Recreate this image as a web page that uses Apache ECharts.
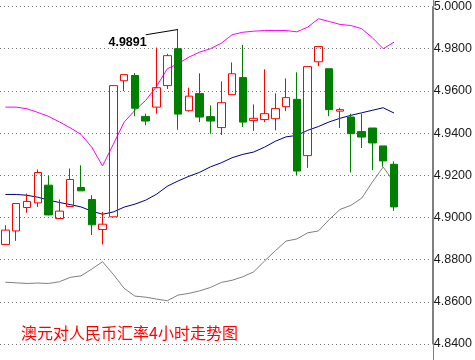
<!DOCTYPE html>
<html>
<head>
<meta charset="utf-8">
<script src="https://cdn.jsdelivr.net/npm/echarts@6/dist/echarts.min.js"></script>
<style>
html,body{margin:0;padding:0;background:#fff;}
#c{width:475px;height:360px;}
</style>
</head>
<body>
<div id="c"></div>
<script>
// ---- data (4-hour candles, AUD/CNY) ----
const categories = Array.from({length: 40}, (_, i) => String(i + 1)); // 37 candles + 3 empty slots on the right
const opens  = [4.8872,4.8936,4.9047,4.9069,4.9153,4.8995,4.9052,4.9142,4.9085,4.8943,4.9003,4.9648,4.9673,4.9479,4.9523,4.9625,4.9800,4.9506,4.9587,4.9478,4.9426,4.9582,4.9663,4.9459,4.9464,4.9468,4.9525,4.9560,4.9293,4.9738,4.9705,4.9504,4.9476,4.9407,4.9424,4.9339,4.9252];
const closes = [4.8940,4.9066,4.9076,4.9213,4.9012,4.9030,4.9180,4.9126,4.8965,4.8968,4.9625,4.9677,4.9518,4.9457,4.9615,4.9767,4.9490,4.9575,4.9476,4.9457,4.9544,4.9681,4.9452,4.9470,4.9492,4.9516,4.9568,4.9220,4.9715,4.9810,4.9511,4.9511,4.9397,4.9381,4.9353,4.9268,4.9050];
const lows   = [4.8872,4.8889,4.9022,4.9050,4.9010,4.8995,4.9050,4.9126,4.8917,4.8872,4.9003,4.9599,4.9480,4.9437,4.9492,4.9609,4.9416,4.9502,4.9452,4.9397,4.9391,4.9582,4.9429,4.9410,4.9452,4.9413,4.9504,4.9201,4.9235,4.9717,4.9480,4.9424,4.9213,4.9329,4.9224,4.9240,4.9031];
const highs  = [4.8963,4.9066,4.9113,4.9227,4.9197,4.9085,4.9232,4.9247,4.9105,4.9026,4.9625,4.9677,4.9684,4.9492,4.9805,4.9776,4.9891,4.9615,4.9683,4.9531,4.9645,4.9735,4.9818,4.9536,4.9702,4.9588,4.9659,4.9688,4.9715,4.9810,4.9705,4.9520,4.9492,4.9492,4.9424,4.9339,4.9266];
// Bollinger bands
const upperBand  = [4.9523,4.9523,4.9515,4.9498,4.9479,4.9453,4.9425,4.9394,4.9333,4.9244,4.9347,4.9452,4.9508,4.9555,4.9621,4.9705,4.9729,4.9760,4.9784,4.9800,4.9826,4.9866,4.9878,4.9883,4.9886,4.9886,4.9886,4.9880,4.9902,4.9942,4.9929,4.9915,4.9910,4.9895,4.9852,4.9800,4.9831];
const middleBand = [4.9109,4.9109,4.9105,4.9096,4.9082,4.9071,4.9061,4.9050,4.9030,4.9015,4.9026,4.9049,4.9063,4.9082,4.9110,4.9148,4.9173,4.9195,4.9214,4.9240,4.9259,4.9283,4.9299,4.9310,4.9333,4.9361,4.9382,4.9389,4.9413,4.9431,4.9453,4.9470,4.9484,4.9496,4.9508,4.9520,4.9495];
const lowerBand  = [4.8693,4.8690,4.8687,4.8689,4.8687,4.8695,4.8716,4.8723,4.8755,4.8790,4.8730,4.8664,4.8627,4.8622,4.8613,4.8605,4.8632,4.8640,4.8652,4.8668,4.8692,4.8702,4.8719,4.8742,4.8793,4.8842,4.8888,4.8898,4.8927,4.8936,4.8990,4.9038,4.9057,4.9091,4.9168,4.9239,4.9168];
// y-axis ticks
const yMin = 4.84, yMax = 5.00, yStep = 0.02;
// annotation of the peak
const peakLabel = '4.9891';
const peakIndex = 16, peakValue = 4.9891;
const leaderIndex = 13, leaderValue = 4.9866;
const titleText = '澳元对人民币汇率4小时走势图';

const candles = opens.map((o, i) => [o, closes[i], lows[i], highs[i]]);

const chart = echarts.init(document.getElementById('c'), null, {renderer: 'canvas'});
chart.setOption({
  animation: false,
  backgroundColor: '#ffffff',
  title: {
    text: titleText, left: 21, top: 325, padding: 0,
    textStyle: {color: '#ff0000', fontSize: 16, fontWeight: 'normal', fontFamily: '"Noto Sans CJK SC", sans-serif'}
  },
  grid: {left: -2.4, right: 42, top: 6, bottom: 16, containLabel: false},
  xAxis: {
    type: 'category', data: categories, boundaryGap: true,
    axisLine: {show: false}, axisTick: {show: false}, axisLabel: {show: false}, splitLine: {show: false}
  },
  yAxis: {
    type: 'value', position: 'right', min: yMin, max: yMax, interval: yStep, scale: true,
    axisLine: {show: true, lineStyle: {color: '#808080', width: 1}},
    axisTick: {show: false},
    axisLabel: {
      margin: 2, color: '#1a1a1a', fontSize: 12.5, fontFamily: '"Liberation Sans", Arial, sans-serif',
      padding: [6, 0, 0, 0], verticalAlign: 'middle',
      formatter: v => v.toFixed(4)
    },
    splitLine: {show: true, lineStyle: {color: '#777777', width: 1, type: [1, 3]}}
  },
  graphic: [{
    type: 'line', z: 0, shape: {x1: 433.5, y1: 0, x2: 433.5, y2: 360},
    style: {stroke: '#808080', lineWidth: 1}
  }],
  series: [
    {type: 'line', data: upperBand, symbol: 'none', lineStyle: {color: '#ff00ff', width: 1}, z: 2},
    {type: 'line', data: middleBand, symbol: 'none', lineStyle: {color: '#000080', width: 1}, z: 2},
    {type: 'line', data: lowerBand, symbol: 'none', lineStyle: {color: '#808080', width: 1}, z: 2},
    {
      type: 'candlestick', data: candles, barWidth: 8, z: 3,
      itemStyle: {color: 'rgba(255,255,255,0)', color0: '#008000', borderColor: '#ff0000', borderColor0: '#008000', borderWidth: 1},
      markLine: {
        silent: true, symbol: ['none', 'none'],
        lineStyle: {color: '#000000', width: 1, type: 'solid'},
        label: {show: false},
        data: [[{coord: [leaderIndex, leaderValue]}, {coord: [peakIndex, peakValue]}]]
      },
      markPoint: {
        silent: true, symbol: 'circle', symbolSize: 0,
        label: {show: true, position: 'left', distance: 0, offset: [1, 8], formatter: peakLabel,
          color: '#000000', fontSize: 12.5, fontWeight: 'bold', fontFamily: '"Liberation Sans", Arial, sans-serif'},
        data: [{coord: [leaderIndex, leaderValue]}]
      }
    }
  ]
});
</script>
</body>
</html>
